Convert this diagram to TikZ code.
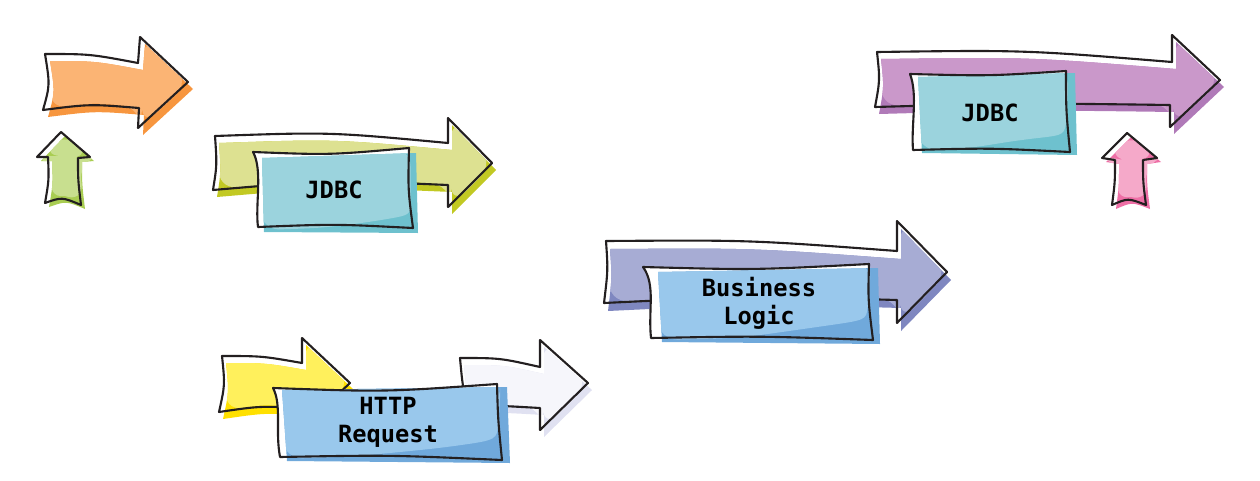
\documentclass[tikz,border=0pt]{standalone}
\usepackage{fontspec}
\setmonofont{DejaVu Sans Mono}
\usepackage{tikz}
\usepackage{xcolor}
\usetikzlibrary{positioning}

\definecolor{ink}{HTML}{231F20}
\definecolor{orangeL}{HTML}{FBB474}
\definecolor{orangeD}{HTML}{F7963F}
\definecolor{leafL}{HTML}{C8DF8F}
\definecolor{leafD}{HTML}{A9CD52}
\definecolor{oliveL}{HTML}{DDE191}
\definecolor{oliveD}{HTML}{C2C923}
\definecolor{sunL}{HTML}{FFF05C}
\definecolor{sunD}{HTML}{FFE000}
\definecolor{mistL}{HTML}{F6F6FB}
\definecolor{mistD}{HTML}{E0E1F1}
\definecolor{periL}{HTML}{A7ACD4}
\definecolor{periD}{HTML}{7F87C0}
\definecolor{plumL}{HTML}{CA98CA}
\definecolor{plumD}{HTML}{B07AB8}
\definecolor{pinkL}{HTML}{F5A9C9}
\definecolor{pinkD}{HTML}{EE6FA6}
\definecolor{tealL}{HTML}{9BD3DD}
\definecolor{tealD}{HTML}{6EC1CE}
\definecolor{skyL}{HTML}{99C8EC}
\definecolor{skyD}{HTML}{70A9DB}

% arrow outlines (pixel coordinates)
\newcommand{\orangearrow}{(45,54) .. controls (90,54) .. (138,63) -- (140,37) -- (188,82) -- (138,128) -- (139,108) .. controls (90,104) .. (43,110) .. controls (50,85) .. (45,54) -- cycle}
\newcommand{\leafup}{(61,132) -- (90,157) -- (78,158) .. controls (78,180) .. (81,205) .. controls (62,197) .. (45,203) .. controls (49,180) .. (48,157) -- (37,157) -- cycle}
\newcommand{\olivearrow}{(215,136) .. controls (330,132) .. (448,143) -- (448,118) -- (492,163) -- (448,207) -- (448,185) .. controls (330,180) .. (213,190) .. controls (217,165) .. (215,136) -- cycle}
\newcommand{\sunarrow}{(222,356) .. controls (262,356) .. (302,363) -- (302,338) -- (350,383) -- (302,428) -- (302,408) .. controls (260,406) .. (219,412) .. controls (225,385) .. (222,356) -- cycle}
\newcommand{\mistarrow}{(460,358) .. controls (500,358) .. (540,367) -- (540,340) -- (588,383) -- (540,430) -- (540,408) .. controls (505,406) .. (466,405) .. controls (462,380) .. (460,358) -- cycle}
\newcommand{\periarrow}{(606,241) .. controls (750,240) .. (897,251) -- (897,221) -- (947,272) -- (897,323) -- (897,300) .. controls (750,296) .. (604,303) .. controls (608,270) .. (606,241) -- cycle}
\newcommand{\plumarrow}{(877,52) .. controls (1025,50) .. (1172,62) -- (1172,35) -- (1220,80) -- (1170,127) -- (1170,105) .. controls (1020,103) .. (875,107) .. controls (880,80) .. (877,52) -- cycle}
\newcommand{\pinkup}{(1127,133) -- (1157,158) -- (1143,160) .. controls (1143,182) .. (1146,205) .. controls (1128,198) .. (1112,205) .. controls (1115,182) .. (1115,160) -- (1102,158) -- cycle}

% box outlines, fills and highlights
\newcommand{\jdbcAbox}{(253,152) .. controls (330,155) .. (409,148) .. controls (408,190) .. (413,228) .. controls (335,224) .. (258,227) .. controls (255,205) and (263,170) .. (253,152) -- cycle}
\newcommand{\jdbcAfill}{(262,158) -- (416,153) -- (418,233) -- (264,232) -- cycle}
\newcommand{\jdbcAshine}{(255,150) -- (410,148) -- (411,185) .. controls (410,215) .. (370,222) .. controls (320,228) .. (262,230) -- cycle}
\newcommand{\httpbox}{(273,388) .. controls (385,392) .. (497,384) .. controls (498,420) .. (502,460) .. controls (390,455) .. (280,457) .. controls (275,430) and (282,405) .. (273,388) -- cycle}
\newcommand{\httpfill}{(282,390) -- (507,387) -- (510,463) -- (287,461) -- cycle}
\newcommand{\httpshine}{(275,380) -- (500,380) -- (500,405) .. controls (497,440) .. (440,448) .. controls (360,456) .. (285,459) -- cycle}
\newcommand{\logicbox}{(643,267) .. controls (755,270) .. (869,264) .. controls (868,300) .. (873,340) .. controls (760,336) .. (651,338) .. controls (648,310) and (656,285) .. (643,267) -- cycle}
\newcommand{\logicfill}{(658,272) -- (878,268) -- (880,344) -- (662,342) -- cycle}
\newcommand{\logicshine}{(650,262) -- (870,262) -- (870,290) .. controls (866,320) .. (810,328) .. controls (740,338) .. (660,340) -- cycle}
\newcommand{\jdbcBbox}{(910,74) .. controls (990,76) .. (1066,71) .. controls (1066,110) .. (1070,152) .. controls (990,148) .. (913,150) .. controls (911,125) and (918,95) .. (910,74) -- cycle}
\newcommand{\jdbcBfill}{(918,77) -- (1075,73) -- (1077,155) -- (922,153) -- cycle}
\newcommand{\jdbcBshine}{(910,68) -- (1068,68) -- (1068,100) .. controls (1065,135) .. (1020,140) .. controls (970,148) .. (920,151) -- cycle}

% colour body, highlight, then ink outline
\newcommand{\sketcharrow}[4]{%
  \fill[#3, shift={#4}] #1;
  \begin{scope}
    \clip[shift={#4}] #1;
    \fill[#2, shift={(3,-1)}, rounded corners=12pt] #1;
  \end{scope}
  \draw[outline] #1;}
\newcommand{\sketchbox}[5]{%
  \fill[white] #1;
  \fill[#5] #2;
  \begin{scope}
    \clip #2;
    \fill[#4, rounded corners=10pt] #3;
  \end{scope}
  \draw[outline] #1;}

\tikzset{
  outline/.style={draw=ink, line width=1.2pt, line join=round},
  boxlabel/.style={font=\ttfamily\bfseries\fontsize{13.5}{16}\selectfont, text=black, align=center}
}

\begin{document}
\begin{tikzpicture}[x=0.02cm, y=-0.02cm]
    \useasboundingbox (0,0) rectangle (1260,480);

    % Top left arrows
    \sketcharrow{\orangearrow}{orangeL}{orangeD}{(5,7)}
    \sketcharrow{\leafup}{leafL}{leafD}{(4,4)}

    % JDBC on the green arrow
    \sketcharrow{\olivearrow}{oliveL}{oliveD}{(4,7)}
    \sketchbox{\jdbcAbox}{\jdbcAfill}{\jdbcAshine}{tealL}{tealD}
    \node[boxlabel] (jdbcA) at (334,190) {JDBC};

    % HTTP request
    \sketcharrow{\sunarrow}{sunL}{sunD}{(4,7)}
    \sketcharrow{\mistarrow}{mistL}{mistD}{(4,7)}
    \sketchbox{\httpbox}{\httpfill}{\httpshine}{skyL}{skyD}
    \node[boxlabel] (http) at (388,422) {HTTP\\Request};

    % Business logic
    \sketcharrow{\periarrow}{periL}{periD}{(4,8)}
    \sketchbox{\logicbox}{\logicfill}{\logicshine}{skyL}{skyD}
    \node[boxlabel] (logic) at (759,303) {Business\\Logic};

    % JDBC on the purple arrow
    \sketcharrow{\plumarrow}{plumL}{plumD}{(4,7)}
    \sketchbox{\jdbcBbox}{\jdbcBfill}{\jdbcBshine}{tealL}{tealD}
    \node[boxlabel] (jdbcB) at (990,113) {JDBC};
    \sketcharrow{\pinkup}{pinkL}{pinkD}{(4,4)}
\end{tikzpicture}
\end{document}
